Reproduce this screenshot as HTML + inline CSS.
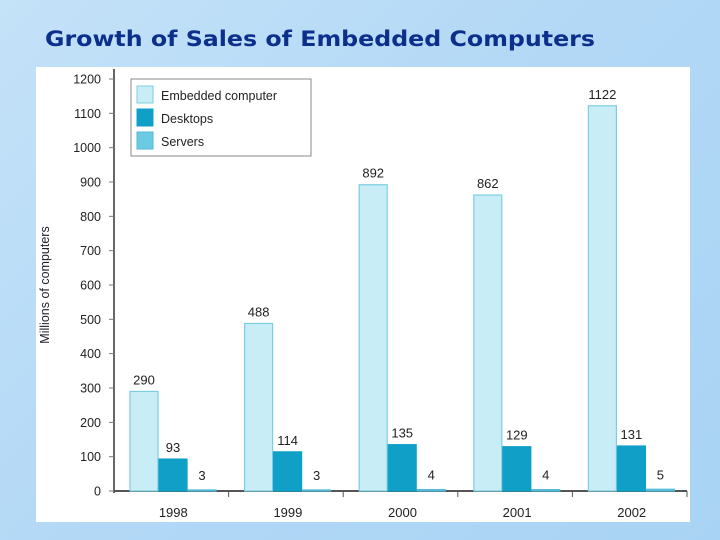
<!DOCTYPE html>
<html><head><meta charset="utf-8"><style>
html,body{margin:0;padding:0;width:720px;height:540px;overflow:hidden;}
body{background:linear-gradient(135deg,#c4e2f8 0%,#b2d8f6 50%,#a9d3f4 100%);font-family:"Liberation Sans",sans-serif;}
</style></head><body>
<svg id="chart" width="720" height="540" xmlns="http://www.w3.org/2000/svg" style="position:absolute;left:0;top:0">
<text x="45" y="46" font-family="DejaVu Sans, sans-serif" font-weight="bold" font-size="21" fill="#0d2f8c" textLength="550" lengthAdjust="spacingAndGlyphs">Growth of Sales of Embedded Computers</text>
<rect x="36" y="67" width="654" height="455" fill="#ffffff"/>
<g id="plot"></g>
</svg>
<script>
const categories=["1998","1999","2000","2001","2002"];
const embedded=[290,488,892,862,1122];
const desktops=[93,114,135,129,131];
const servers=[3,3,4,4,5];
const yTicks=[0,100,200,300,400,500,600,700,800,900,1000,1100,1200];
const seriesNames=["Embedded computer","Desktops","Servers"];

const NS="http://www.w3.org/2000/svg";
const g=document.getElementById('plot');
const x0=114,groupW=114.6,y0=491,yTop=79,yMax=1200;
const y=v=>y0-(v/yMax)*(y0-yTop);
const fills=["#c9edf6","#0f9fc7","#6ccbe2"];
const strokes=["#7ccde2","#0f9fc7","#4fb9d6"];
function el(t,a){const e=document.createElementNS(NS,t);for(const k in a)e.setAttribute(k,a[k]);g.appendChild(e);return e;}
const ax=el('line',{x1:x0,y1:yTop-10,x2:x0,y2:y0+2,stroke:'#333','stroke-width':1.5});


yTicks.forEach(v=>{
  const tk=el('line',{x1:x0-5,y1:y(v),x2:x0,y2:y(v),stroke:'#777','stroke-width':1});
  
  
  const t=el('text',{x:101,y:y(v)+4.5,'text-anchor':'end','font-size':12.5,fill:'#222'});
  t.textContent=v;
  
  
});
const yt=el('text',{x:0,y:0,'font-size':12.5,fill:'#222','text-anchor':'middle',transform:'translate(50,285) rotate(-90)'});
yt.textContent='Millions of computers';


yt.setAttribute('transform','translate(49,285) rotate(-90)');
const xa=el('line',{x1:x0,y1:y0,x2:x0+groupW*5,y2:y0,stroke:'#555','stroke-width':2});


const series=[embedded,desktops,servers];
categories.forEach((c,i)=>{
  const gx=x0+groupW*i;
  const tk=el('line',{x1:gx+groupW,y1:y0,x2:gx+groupW,y2:y0+6,stroke:'#555','stroke-width':1});
  
  
  const lab=el('text',{x:gx+groupW/2+2,y:517,'text-anchor':'middle','font-size':13,fill:'#222'});
  lab.textContent=c;
  
  
  series.forEach((s,j)=>{
    const bx=gx+16+j*29, v=s[i];
    const r=el('rect',{x:bx,y:y(v),width:28,height:y0-y(v),fill:fills[j],stroke:strokes[j],'stroke-width':1.2});
    
    
    const vl=el('text',{x:bx+14,y:y(v)-(j==2?10:7),'text-anchor':'middle','font-size':13,fill:'#222'});
    vl.textContent=v;
    
    
  });
});
const lg=el('rect',{x:131,y:79,width:180,height:77,fill:'#fff',stroke:'#888','stroke-width':1});


seriesNames.forEach((n,j)=>{
  const sw=el('rect',{x:137,y:86+j*23,width:16,height:17,fill:fills[j],stroke:strokes[j]});
  
  
  const t=el('text',{x:161,y:100+j*23,'font-size':12.5,fill:'#222'});
  t.textContent=n;
  
  
});
</script>
</body></html>
